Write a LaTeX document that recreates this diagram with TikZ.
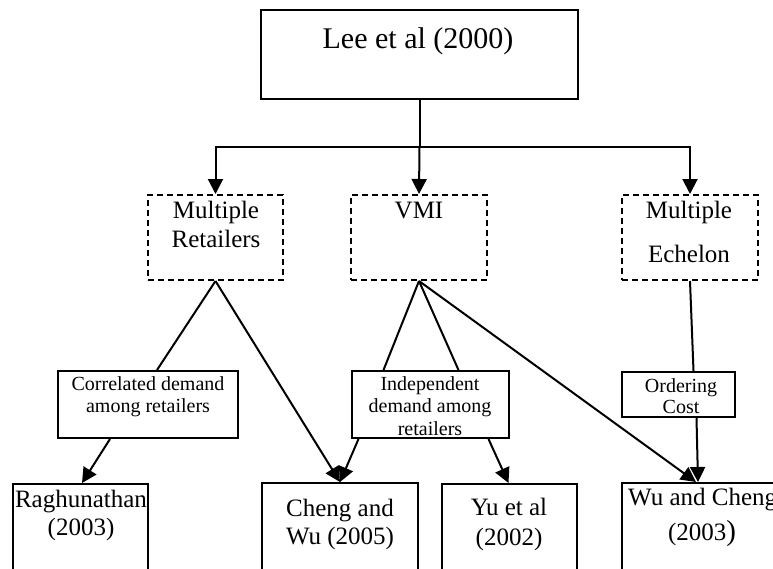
\documentclass[tikz,border=0pt]{standalone}
\usepackage{fontspec}
\setmainfont{Liberation Serif}
\usetikzlibrary{arrows.meta}
\tikzset{
  boxs/.style={draw, line width=2pt, rectangle, inner sep=0pt},
  boxd/.style={draw, line width=2pt, rectangle, inner sep=0pt, dash pattern=on 6pt off 4pt},
  lbl/.style={inner sep=0pt, anchor=base},
  big/.style={font=\fontsize{30}{30}\selectfont},
  mid/.style={font=\fontsize{25}{25}\selectfont},
  sml/.style={font=\fontsize{20}{20}\selectfont},
  conn/.style={line width=2pt},
  arr/.style={line width=2pt, -{Triangle[length=15pt,width=15pt]}},
}
\begin{document}
\begin{tikzpicture}[x=1pt,y=-1pt]
\useasboundingbox (0,0) rectangle (773,568);
\clip (0,0) rectangle (773,568);
% boxes
\node[boxs, minimum width=317pt, minimum height=89pt] (lee) at (419.5,54.5) {};
\node[boxd, minimum width=135pt, minimum height=85pt] (mr) at (215.5,237.5) {};
\node[boxd, minimum width=136pt, minimum height=85pt] (vmi) at (419,237.5) {};
\node[boxd, minimum width=136pt, minimum height=85pt] (me) at (690,237.5) {};
\node[boxs, minimum width=180pt, minimum height=67pt] (corr) at (148,404.5) {};
\node[boxs, minimum width=157pt, minimum height=67pt] (ind) at (430.5,404.5) {};
\node[boxs, minimum width=113pt, minimum height=45pt] (oc) at (678.5,394.5) {};
\node[boxs, minimum width=135pt, minimum height=120pt] (rag) at (80.5,544) {};
\node[boxs, minimum width=156pt, minimum height=120pt] (cw) at (340,543) {};
\node[boxs, minimum width=135pt, minimum height=120pt] (yu) at (509.5,544) {};
\node[boxs, minimum width=200pt, minimum height=120pt] (wc) at (722,543) {};
% labels
\node[lbl, big] (t1) at (418,48) {Lee et al (2000)};
\node[lbl, mid] (t2) at (216,218) {Multiple};
\node[lbl, mid] (t3) at (216,247) {Retailers};
\node[lbl, mid] (t4) at (419,218) {VMI};
\node[lbl, mid] (t5) at (689,218) {Multiple};
\node[lbl, mid] (t6) at (689,262) {Echelon};
\node[lbl, sml] (t7) at (148,390) {Correlated demand};
\node[lbl, sml] (t8) at (148,412) {among retailers};
\node[lbl, sml] (t9) at (430,390) {Independent};
\node[lbl, sml] (t10) at (430,412) {demand among};
\node[lbl, sml] (t11) at (430,435) {retailers};
\node[lbl, sml] (t12) at (681,392) {Ordering};
\node[lbl, sml] (t13) at (681,413) {Cost};
\node[lbl, mid] (t14) at (81,507) {Raghunathan};
\node[lbl, mid] (t15) at (81,535) {(2003)};
\node[lbl, mid] (t16) at (340,516) {Cheng and};
\node[lbl, mid] (t17) at (340,544) {Wu (2005)};
\node[lbl, mid] (t18) at (509,515) {Yu et al};
\node[lbl, mid] (t19) at (509,545) {(2002)};
\node[lbl, mid, anchor=base west] (t20) at (628,505) {Wu and Cheng};
\node[lbl, mid] (t21) at (702,540) {(2003\fontsize{29}{29}\selectfont)};
% connectors
\coordinate (hub) at (lee.south |- 0,147);
\draw[conn] (lee.south) -- (hub);
\draw[arr] (hub) -| (mr.north);
\draw[arr] (hub) -| (me.north);
\draw[arr] (hub) -- (vmi.north);
\draw[conn] (mr.south) -- ([xshift=9pt]corr.north);
\draw[arr] (mr.south) -- (cw.north);
\draw[arr] ([xshift=-38pt]corr.south) -- ([xshift=1.5pt]rag.north);
\draw[conn] (vmi.south) -- ([xshift=-47pt]ind.north);
\draw[conn] (vmi.south) -- ([xshift=28pt]ind.north);
\draw[arr] (vmi.south) -- ([xshift=75pt]wc.north west);
\draw[arr] ([xshift=-72pt]ind.south) -- (cw.north);
\draw[arr] ([xshift=58pt]ind.south) -- ([xshift=-1pt]yu.north);
\draw[conn] (me.south) -- ([xshift=15pt]oc.north);
\draw[arr] ([xshift=18pt]oc.south) -- ([xshift=77pt]wc.north west);
\end{tikzpicture}
\end{document}
